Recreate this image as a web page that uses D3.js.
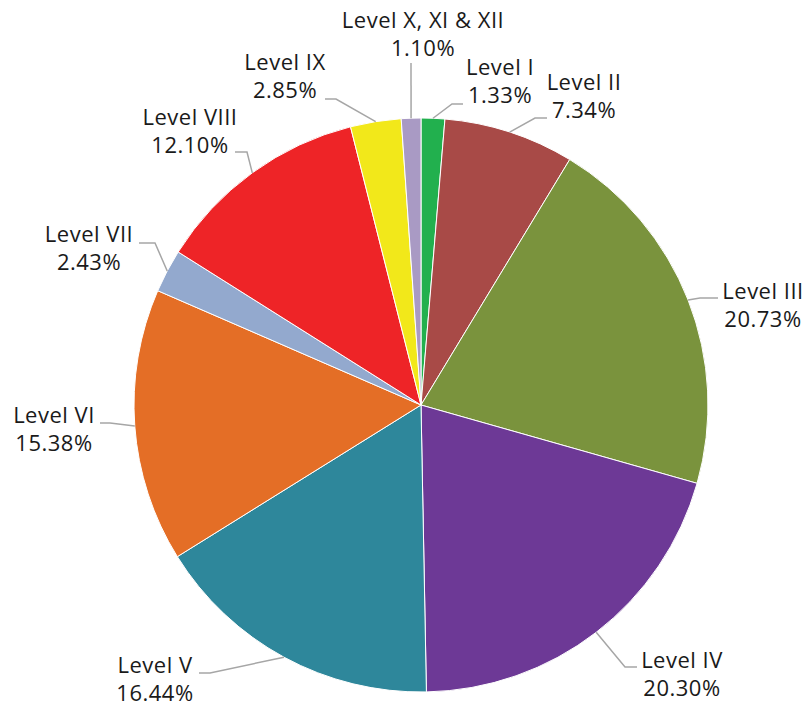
<!DOCTYPE html>
<html>
<head>
<meta charset="utf-8">
<script src="https://cdn.jsdelivr.net/npm/d3@7"></script>
<style>
  body { margin: 0; background: #fff; }
  .lbl { font-family: "Open Sans", sans-serif; font-size: 22px; letter-spacing: 0.5px; fill: #1a1a1a; }
</style>
</head>
<body>
<svg id="chart"></svg>
<script>
// chart data
var levels = ["Level I", "Level II", "Level III", "Level IV", "Level V",
              "Level VI", "Level VII", "Level VIII", "Level IX", "Level X, XI & XII"];
var shares = [1.33, 7.34, 20.73, 20.30, 16.44, 15.38, 2.43, 12.10, 2.85, 1.10];
var colors = ["#22B04E", "#A84A47", "#7A933D", "#6D3996", "#2E879B",
              "#E46E26", "#93A9CE", "#EE2427", "#F2E81A", "#A99AC4"];

// label layout: text centre x, first baseline y, leader elbow and end
var labelPos = [
  {x: 500, y: 75,  elbow: [452, 104], end: [463, 104]},
  {x: 584, y: 90,  elbow: [535, 118], end: [547, 118]},
  {x: 763, y: 299, elbow: [700, 298], end: [718, 298]},
  {x: 682, y: 668, elbow: [625, 667], end: [637, 667]},
  {x: 155, y: 673, elbow: [210, 673], end: [199, 673]},
  {x: 54,  y: 423, elbow: [110, 423], end: [100, 423]},
  {x: 89,  y: 242, elbow: [155, 243], end: [139, 243]},
  {x: 190, y: 125, elbow: [247, 152], end: [235, 152]},
  {x: 285, y: 70,  elbow: [336, 99],  end: [325, 99]},
  {x: 423, y: 28,  elbow: [411, 63],  end: [411, 63]}
];

var width = 807,
    height = 708,
    cx = 421,
    cy = 405,
    radius = 287,
    lineGap = 28;

var svg = d3.select("#chart")
    .attr("width", width)
    .attr("height", height);

var data = levels.map(function(d, i) { return {name: d, value: shares[i], i: i}; });

var pie = d3.pie()
    .sort(null)
    .value(function(d) { return d.value; });

var arc = d3.arc()
    .innerRadius(0)
    .outerRadius(radius);

var g = svg.append("g")
    .attr("transform", "translate(" + cx + "," + cy + ")");

var arcs = pie(data);

g.selectAll("path.slice")
    .data(arcs)
    .enter()
    .append("path")
    .attr("class", "slice")
    .attr("d", arc)
    .attr("fill", function(d) { return colors[d.data.i]; })
    .attr("stroke", "#fff")
    .attr("stroke-width", 1);

// leader lines start on the rim at each slice's mid angle
svg.selectAll("polyline.leader")
    .data(arcs)
    .enter()
    .append("polyline")
    .attr("class", "leader")
    .attr("points", function(d) {
      var a = (d.startAngle + d.endAngle) / 2;
      var sx = cx + radius * Math.sin(a),
          sy = cy - radius * Math.cos(a);
      var p = labelPos[d.data.i];
      return [[sx, sy], p.elbow, p.end].map(function(q) { return q.join(","); }).join(" ");
    })
    .attr("fill", "none")
    .attr("stroke", "#a6a6a6")
    .attr("stroke-width", 1.5);

var fmt = d3.format(".2f");

var labels = svg.selectAll("text.lbl")
    .data(arcs)
    .enter()
    .append("text")
    .attr("class", "lbl")
    .attr("text-anchor", "middle")
    .attr("x", function(d) { return labelPos[d.data.i].x; })
    .attr("y", function(d) { return labelPos[d.data.i].y; });

labels.append("tspan")
    .attr("x", function(d) { return labelPos[d.data.i].x; })
    .text(function(d) { return d.data.name; });

labels.append("tspan")
    .attr("x", function(d) { return labelPos[d.data.i].x; })
    .attr("dy", lineGap)
    .text(function(d) { return fmt(d.data.value) + "%"; });
</script>
</body>
</html>
